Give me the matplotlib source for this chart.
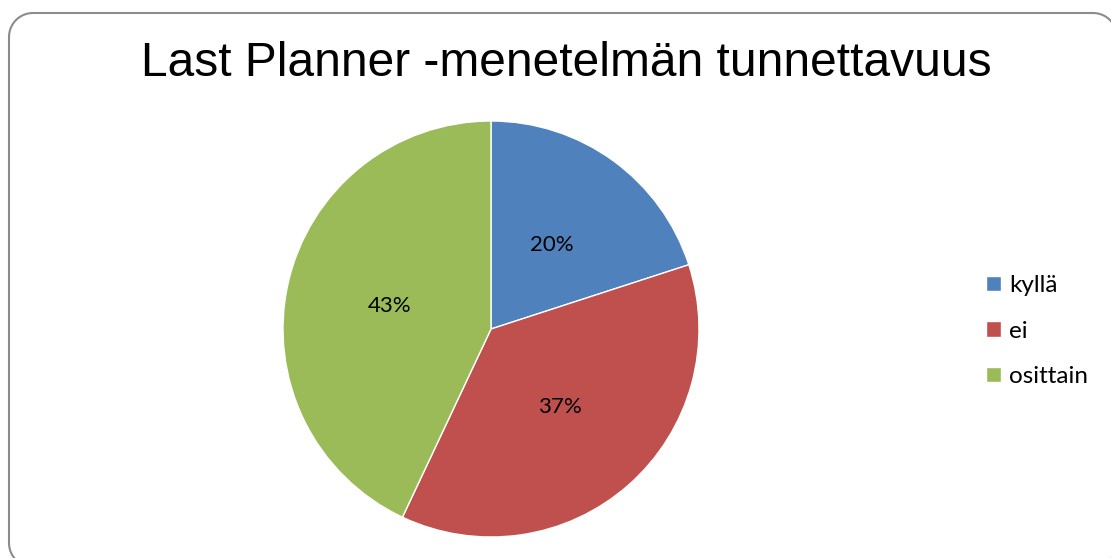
import matplotlib
matplotlib.use('Agg')
import numpy as np
import matplotlib.pyplot as plt

# data
labels = ['kyllä', 'ei', 'osittain']
shares = [20, 37, 43]
colors = ['#4F81BD', '#C0504D', '#9BBB59']
title = 'Last Planner -menetelmän tunnettavuus'

W, H = 1111, 558
fig = plt.figure(figsize=(W / 100, H / 100), dpi=100)

# background axes in pixel coords (y down) for the rounded frame
bg = fig.add_axes([0, 0, 1, 1])
bg.set_xlim(0, W)
bg.set_ylim(H, 0)
bg.axis('off')


def rounded_rect(x0, y0, x1, y1, r):
    xs, ys = [], []
    corners = [(x1 - r, y0 + r, -90, 0), (x1 - r, y1 - r, 0, 90),
               (x0 + r, y1 - r, 90, 180), (x0 + r, y0 + r, 180, 270)]
    for cx, cy, a0, a1 in corners:
        t = np.radians(np.linspace(a0, a1, 20))
        xs.extend(cx + r * np.cos(t))
        ys.extend(cy + r * np.sin(t))
    xs.append(xs[0])
    ys.append(ys[0])
    return xs, ys


fx, fy = rounded_rect(9, 13, 1117, 567, 24)
bg.plot(fx, fy, color='#8c8c8c', linewidth=1.5)

fig.text(566 / W, 1 - 64 / H, title, ha='center', va='center',
         fontsize=34.5, family='Liberation Sans')

# pie axes in pixel extents
ax = fig.add_axes([283 / W, 1 - 537 / H, 416 / W, 416 / H])
wedges, texts, autotexts = ax.pie(shares, colors=colors, startangle=90,
                                  counterclock=False, autopct='%1.0f%%',
                                  pctdistance=0.5,
                                  wedgeprops=dict(edgecolor='white', linewidth=1))
for t in autotexts:
    t.set_fontsize(16)
    t.set_family('Lato')
ax.set_xlim(-1, 1)
ax.set_ylim(-1, 1)
ax.set_aspect('equal')

fig.legend(wedges, labels, loc='center left',
           bbox_to_anchor=(986 / W, 1 - 331 / H), frameon=False,
           prop={'family': 'Lato', 'size': 17.5},
           handlelength=0.6, handleheight=0.6, handletextpad=0.35,
           labelspacing=1.0, borderpad=0, borderaxespad=0)

fig.savefig('out.png', dpi=100)
